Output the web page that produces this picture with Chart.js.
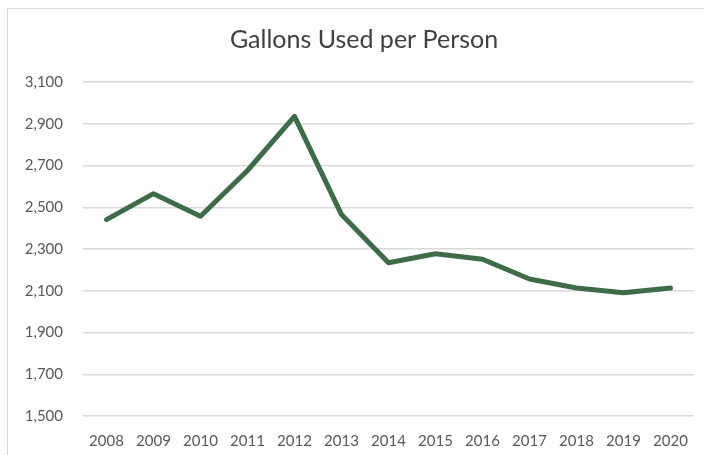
<!DOCTYPE html>
<html>
<head>
<meta charset="utf-8">
<script src="https://cdn.jsdelivr.net/npm/chart.js@4/dist/chart.umd.min.js"></script>
<style>
  html, body { margin: 0; padding: 0; background: #fff; }
  #wrap { position: relative; width: 704px; height: 455px; overflow: hidden; }
  #frame { position: absolute; left: 7px; top: 8px; width: 740px; height: 480px; border: 1.5px solid #d9d9d9; box-sizing: border-box; }
  canvas { position: absolute; left: 0; top: 0; }
</style>
</head>
<body>
<div id="wrap">
  <div id="frame"></div>
  <canvas id="chartCanvas" width="704" height="455"></canvas>
</div>
<script>
  const tahun = ["2008", "2009", "2010", "2011", "2012", "2013", "2014", "2015", "2016", "2017", "2018", "2019", "2020"];
  const galon = [2441, 2565, 2457, 2676, 2935, 2465, 2234, 2277, 2251, 2156, 2113, 2090, 2113];
  const yMin = 1500;
  const yMax = 3100;
  const yStep = 200;

  const fontName = "Lato, 'Open Sans', sans-serif";

  // geser judul sedikit ke kanan, seperti di gambar asli
  const geserJudul = {
    id: 'geserJudul',
    afterLayout(chart) {
      if (chart.titleBlock) chart.titleBlock.left += 34;
    }
  };

  const ctx = document.getElementById('chartCanvas').getContext('2d');
  new Chart(ctx, {
    type: 'line',
    data: {
      labels: tahun,
      datasets: [{
        label: 'Gallons Used per Person',
        data: galon,
        borderColor: '#3e6b48',
        backgroundColor: '#3e6b48',
        borderWidth: 5,
        tension: 0,
        pointRadius: 0,
        borderCapStyle: 'round',
        borderJoinStyle: 'round',
        fill: false
      }]
    },
    options: {
      responsive: false,
      animation: false,
      layout: { padding: { left: 0, right: 10, top: 0, bottom: 0 } },
      plugins: {
        legend: { display: false },
        tooltip: { enabled: false },
        title: {
          display: true,
          text: 'Gallons Used per Person',
          color: '#404040',
          font: { family: fontName, size: 25, weight: 'normal' },
          padding: { top: 25, bottom: 27 }
        }
      },
      scales: {
        x: {
          offset: true,
          grid: { display: false },
          border: { display: false },
          afterFit: (s) => { s.height = 39; },
          ticks: {
            color: '#595959',
            font: { family: fontName, size: 15 },
            padding: 8,
            maxRotation: 0,
            autoSkip: false
          }
        },
        y: {
          min: yMin,
          max: yMax,
          border: { display: false },
          grid: { color: '#d9d9d9', lineWidth: 1.5, drawTicks: false },
          afterFit: (s) => { s.width = 83; },
          ticks: {
            stepSize: yStep,
            color: '#595959',
            padding: 20,
            font: { family: fontName, size: 15 },
            callback: (v) => v.toLocaleString('en-US')
          }
        }
      }
    },
    plugins: [geserJudul]
  });
</script>
</body>
</html>
